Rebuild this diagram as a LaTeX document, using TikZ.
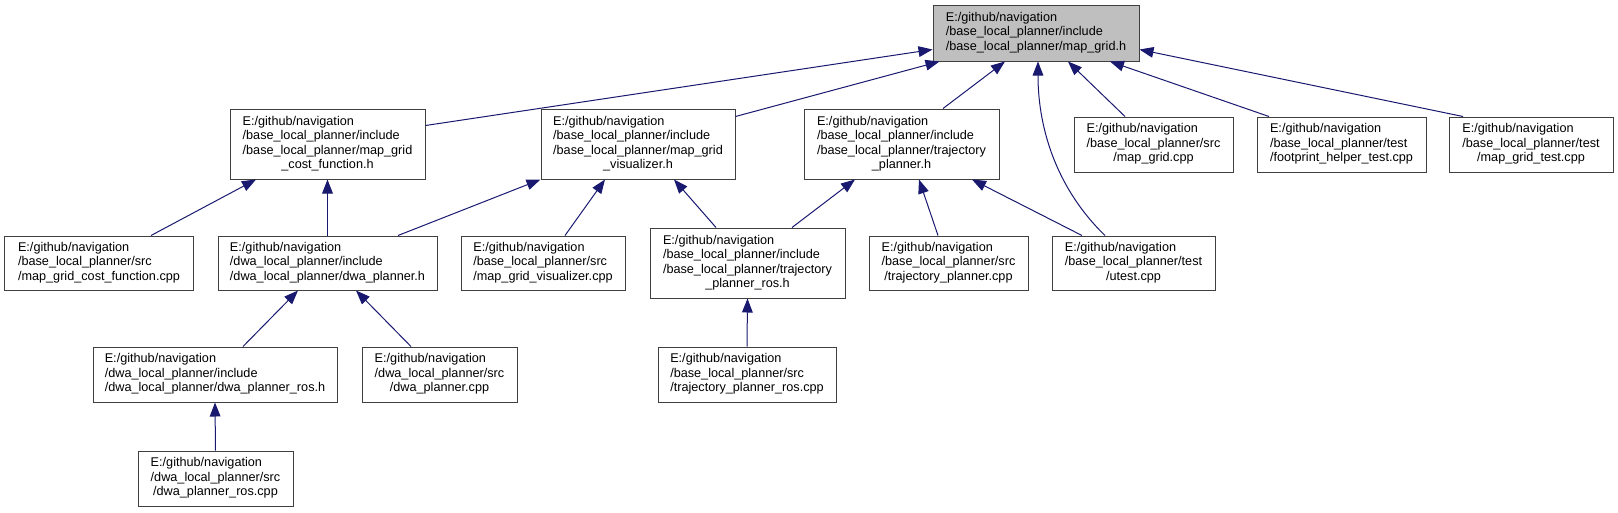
\documentclass[tikz,border=0pt]{standalone}
\usepackage{fontspec}
\setmainfont{Liberation Sans}
\usetikzlibrary{arrows.meta,calc}
\definecolor{navy}{HTML}{191970}
\newcommand\ntxt[2]{\begin{tabular}{@{}l@{}}#1\\\multicolumn{1}{@{}c@{}}{#2}\end{tabular}}
\newcommand\gh{E:/github/navigation}
\newcommand\blp{/base\_local\_planner}
\newcommand\dlp{/dwa\_local\_planner}
\begin{document}
\begin{tikzpicture}[x=0.75pt,y=-0.75pt,
  box/.style={draw=black!75,line width=0.75pt,fill=white,inner sep=0pt,
    font=\fontsize{9.5}{10.8}\selectfont},
  dep/.style={draw=navy,line width=0.75pt,-{Triangle[length=10.5pt,width=8pt,fill=navy]}},
  bx/.style 2 args={box,minimum width=#1*0.75pt,minimum height=#2*0.75pt}]
\useasboundingbox (0,0) rectangle (1618,512);
% nodes
\node[bx={206}{56},fill=black!25] (mg) at (1036,33) {\ntxt{\gh\\\blp/include}{\blp/map\_grid.h}};
\node[bx={195}{70}] (cfh) at (327.5,144) {\ntxt{\gh\\\blp/include\\\blp/map\_grid}{\_cost\_function.h}};
\node[bx={194}{70}] (vzh) at (638,144) {\ntxt{\gh\\\blp/include\\\blp/map\_grid}{\_visualizer.h}};
\node[bx={195}{70}] (tph) at (901.5,144) {\ntxt{\gh\\\blp/include\\\blp/trajectory}{\_planner.h}};
\node[bx={159}{55}] (mgc) at (1153.5,144.5) {\ntxt{\gh\\\blp/src}{/map\_grid.cpp}};
\node[bx={169}{55}] (fht) at (1341.5,144.5) {\ntxt{\gh\\\blp/test}{/footprint\_helper\_test.cpp}};
\node[bx={164}{55}] (mgt) at (1531,144.5) {\ntxt{\gh\\\blp/test}{/map\_grid\_test.cpp}};
\node[bx={189}{54}] (cfc) at (99,263) {\ntxt{\gh\\\blp/src}{/map\_grid\_cost\_function.cpp}};
\node[bx={219}{54}] (dph) at (327.5,263) {\ntxt{\gh\\\dlp/include}{\dlp/dwa\_planner.h}};
\node[bx={164}{54}] (vzc) at (543,263) {\ntxt{\gh\\\blp/src}{/map\_grid\_visualizer.cpp}};
\node[bx={195}{70}] (tprh) at (747.5,263) {\ntxt{\gh\\\blp/include\\\blp/trajectory}{\_planner\_ros.h}};
\node[bx={159}{54}] (tpc) at (948.5,263) {\ntxt{\gh\\\blp/src}{/trajectory\_planner.cpp}};
\node[bx={163}{54}] (ut) at (1133.5,263) {\ntxt{\gh\\\blp/test}{/utest.cpp}};
\node[bx={244}{55}] (dprh) at (215,374.5) {\ntxt{\gh\\\dlp/include}{\dlp/dwa\_planner\_ros.h}};
\node[bx={155}{55}] (dpc) at (439.5,374.5) {\ntxt{\gh\\\dlp/src}{/dwa\_planner.cpp}};
\node[bx={178}{55}] (tprc) at (747,374.5) {\ntxt{\gh\\\blp/src}{/trajectory\_planner\_ros.cpp}};
\node[bx={155}{55}] (dprc) at (215.5,478.5) {\ntxt{\gh\\\dlp/src}{/dwa\_planner\_ros.cpp}};
% edges to map_grid.h
\draw[dep] ($(cfh.north east)+(0,17)$) -- ($(mg.north west)+(0,45)$);
\draw[dep] ($(vzh.north east)+(0,8)$) -- ($(mg.south west)+(7,0)$);
\draw[dep] ($(tph.north)+(41.5,0)$) -- ($(mg.south)+(-31,0)$);
\draw[dep] ($(ut.north)+(-28.5,0)$) .. controls ($(ut.north)+(-75,-45)$) and ($(mg.south)+(2,70)$) .. ($(mg.south)+(2,0)$);
\draw[dep] ($(mgc.north)+(-28.5,0)$) -- ($(mg.south)+(32,0)$);
\draw[dep] ($(fht.north)+(-72.5,0)$) -- ($(mg.south)+(74,0)$);
\draw[dep] ($(mgt.north)+(-68,0)$) -- ($(mg.north east)+(0,45)$);
% second level
\draw[dep] ($(cfc.north)+(52,0)$) -- ($(cfh.south)+(-71.5,0)$);
\draw[dep] (dph.north) -- (cfh.south);
\draw[dep] ($(dph.north)+(70.5,0)$) -- (vzh.south west);
\draw[dep] ($(vzc.north)+(22,0)$) -- ($(vzh.south)+(-33,0)$);
\draw[dep] ($(tprh.north)+(-31.5,0)$) -- ($(vzh.south)+(36,0)$);
\draw[dep] ($(tprh.north)+(44.5,0)$) -- ($(tph.south)+(-46.5,0)$);
\draw[dep] ($(tpc.north)+(-10.5,0)$) -- ($(tph.south)+(17.5,0)$);
\draw[dep] ($(ut.north)+(-51.5,0)$) -- ($(tph.south)+(70.5,0)$);
% third level
\draw[dep] ($(dprh.north)+(28,0)$) -- ($(dph.south)+(-29.5,0)$);
\draw[dep] ($(dpc.north)+(-28.5,0)$) -- ($(dph.south)+(28.5,0)$);
\draw[dep] (tprc.north) -- (tprh.south);
\draw[dep] (dprc.north) -- (dprh.south);
\end{tikzpicture}
\end{document}
